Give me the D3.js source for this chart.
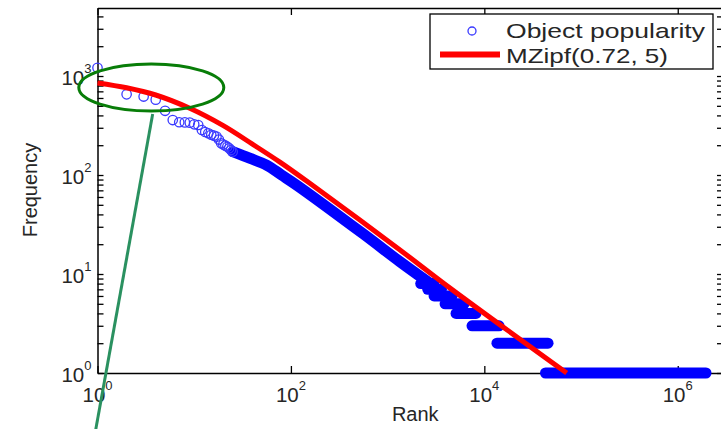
<html>

<head>
    <script src="https://d3js.org/d3.v7.min.js"></script>
    <style>
        body {
            margin: 0;
            background: #fff;
        }

        text {
            font-family: "Liberation Sans", Arial, sans-serif;
            fill: #262626;
        }

        .axis .domain,
        .axis line {
            stroke: #000;
        }
    </style>
</head>

<body>
    <svg width="721" height="429"></svg>

    <script>
        // first ranks, drawn as separate circles
        const headRank = [1, 2, 3, 4, 5, 6, 7, 8, 9, 10, 11, 12, 13, 14, 15, 16, 17, 18, 19, 20, 21, 22, 23, 24, 25];
        const headFreq = [1210, 653, 620, 577, 445, 359, 341, 340, 338, 325, 320, 285, 272, 264, 255, 250, 244, 228, 209, 203, 198, 193, 186, 179, 172];

        // middle part where the circles merge into one band
        const bodyRank = [25, 38, 56, 80, 115, 561, 1343, 2740];
        const bodyFreq = [172, 147, 126, 100, 79, 25.4, 13.3, 8.05];

        // tail: runs of ranks with the same integer frequency
        const stepFreq = [8, 7, 6, 5, 4, 3, 2, 1];
        const stepFrom = [2200, 2600, 3020, 3930, 5100, 7460, 13500, 42900];
        const stepTo = [3000, 3600, 4640, 6170, 8200, 14200, 45600, 1960000];

        // MZipf(0.72, 5) fit
        const fitRank = [1, 2, 4, 9, 20, 40, 77, 158, 1343, 4420, 71100];
        const fitFreq = [850, 760, 643, 472, 315, 205, 135, 82, 17.5, 7.2, 1.0];

        const xTicks = [1, 1e2, 1e4, 1e6];
        const xTickExp = ["0", "2", "4", "6"];
        const yTicks = [1, 10, 100, 1000];
        const yTickExp = ["0", "1", "2", "3"];

        const legendLabels = ["Object popularity", "MZipf(0.72, 5)"];

        const svg = d3.select("svg");
        const margins = { top: 8, right: -2, bottom: 56, left: 97.5 };
        const chartWidth = 721 - margins.left - margins.right;
        const chartHeight = 429 - margins.top - margins.bottom;

        let chartArea = svg.append("g")
            .attr("transform", `translate(${margins.left},${margins.top})`);

        const xScale = d3.scaleLog().domain([1, Math.pow(10, 6.468)]).range([0, chartWidth]);
        const yScale = d3.scaleLog().domain([1, Math.pow(10, 3.687)]).range([chartHeight, 0]);

        // minor + major ticks for the y axes
        let yAll = [];
        for (let d = 0; d < 4; d++) {
            for (let k = 1; k < 10; k++) {
                let v = k * Math.pow(10, d);
                if (v <= yScale.domain()[1]) yAll.push(v);
            }
        }

        chartArea.append("g").attr("class", "axis")
            .call(d3.axisLeft(yScale).tickValues(yAll).tickFormat("").tickSizeInner(-6).tickSizeOuter(0));
        chartArea.append("g").attr("class", "axis")
            .attr("transform", `translate(${chartWidth},0)`)
            .call(d3.axisRight(yScale).tickValues(yAll).tickFormat("").tickSizeInner(-6).tickSizeOuter(0));
        chartArea.append("g").attr("class", "axis")
            .attr("transform", `translate(0,${chartHeight})`)
            .call(d3.axisBottom(xScale).tickValues(xTicks).tickFormat("").tickSizeInner(-7).tickSizeOuter(0));
        chartArea.append("g").attr("class", "axis")
            .call(d3.axisTop(xScale).tickValues(xTicks).tickFormat("").tickSizeInner(-7).tickSizeOuter(0));

        chartArea.selectAll(".axis .domain").attr("stroke-width", 1.5);
        chartArea.selectAll(".axis line").attr("stroke-width", 1.3);

        // tick labels as 10 with a raised exponent
        yTicks.forEach((v, i) => {
            let t = chartArea.append("text")
                .attr("x", -6)
                .attr("y", yScale(v) + 8.5)
                .attr("text-anchor", "end")
                .attr("font-size", 20.5);
            t.append("tspan").text("10");
            t.append("tspan").attr("dy", -12).attr("font-size", 13).text(yTickExp[i]);
        });

        xTicks.forEach((v, i) => {
            let t = chartArea.append("text")
                .attr("x", xScale(v))
                .attr("y", chartHeight + 29)
                .attr("text-anchor", "middle")
                .attr("font-size", 20.5);
            t.append("tspan").text("10");
            t.append("tspan").attr("dy", -12).attr("font-size", 13).text(xTickExp[i]);
        });

        chartArea.append("text")
            .attr("x", chartWidth / 2 + 5)
            .attr("y", chartHeight + 48)
            .attr("text-anchor", "middle")
            .attr("font-size", 20)
            .text("Rank");

        svg.append("text")
            .attr("transform", `translate(37,190) rotate(-90)`)
            .attr("text-anchor", "middle")
            .attr("font-size", 20)
            .text("Frequency");

        // observed data
        const bandLine = d3.line().x(d => xScale(d[0])).y(d => yScale(d[1])).curve(d3.curveCatmullRom);

        chartArea.append("path")
            .datum(d3.zip(bodyRank, bodyFreq))
            .attr("d", bandLine)
            .attr("fill", "none")
            .attr("stroke", "#0000ff")
            .attr("stroke-width", 11)
            .attr("stroke-linecap", "round")
            .attr("stroke-linejoin", "round");

        stepFreq.forEach((f, i) => {
            chartArea.append("line")
                .attr("x1", xScale(stepFrom[i]))
                .attr("x2", xScale(stepTo[i]))
                .attr("y1", yScale(f))
                .attr("y2", yScale(f))
                .attr("stroke", "#0000ff")
                .attr("stroke-width", 11)
                .attr("stroke-linecap", "round");
        });

        headRank.forEach((r, i) => {
            chartArea.append("circle")
                .attr("cx", xScale(r))
                .attr("cy", yScale(headFreq[i]))
                .attr("r", 4.7)
                .attr("fill", "none")
                .attr("stroke", "#3a3aff")
                .attr("stroke-width", 1.3);
        });

        // fitted curve
        chartArea.append("path")
            .datum(d3.zip(fitRank, fitFreq))
            .attr("d", d3.line().x(d => xScale(d[0])).y(d => yScale(d[1])).curve(d3.curveCatmullRom))
            .attr("fill", "none")
            .attr("stroke", "#ff0000")
            .attr("stroke-width", 5);

        // legend
        let legend = svg.append("g");
        legend.append("rect")
            .attr("x", 430).attr("y", 14)
            .attr("width", 283).attr("height", 55)
            .attr("fill", "#fff")
            .attr("stroke", "#000")
            .attr("stroke-width", 1.3);
        legend.append("circle")
            .attr("cx", 472).attr("cy", 31).attr("r", 4)
            .attr("fill", "none")
            .attr("stroke", "#3a3aff")
            .attr("stroke-width", 1.3);
        legend.append("line")
            .attr("x1", 440).attr("x2", 500)
            .attr("y1", 54.5).attr("y2", 54.5)
            .attr("stroke", "#ff0000")
            .attr("stroke-width", 6);
        legend.append("text")
            .attr("x", 506).attr("y", 38)
            .attr("font-size", 21)
            .attr("textLength", 199).attr("lengthAdjust", "spacingAndGlyphs")
            .text(legendLabels[0]);
        legend.append("text")
            .attr("x", 506).attr("y", 62.5)
            .attr("font-size", 21)
            .attr("textLength", 162).attr("lengthAdjust", "spacingAndGlyphs")
            .text(legendLabels[1]);

        // green highlight of the head
        chartArea.append("ellipse")
            .attr("cx", xScale(3.6))
            .attr("cy", yScale(766))
            .attr("rx", 72.5)
            .attr("ry", 23.5)
            .attr("fill", "none")
            .attr("stroke", "#087d08")
            .attr("stroke-width", 3);
        chartArea.append("line")
            .attr("x1", xScale(3.72))
            .attr("y1", yScale(413))
            .attr("x2", xScale(0.96))
            .attr("y2", yScale(0.27))
            .attr("stroke", "#2a9160")
            .attr("stroke-width", 3);
    </script>
</body>

</html>
